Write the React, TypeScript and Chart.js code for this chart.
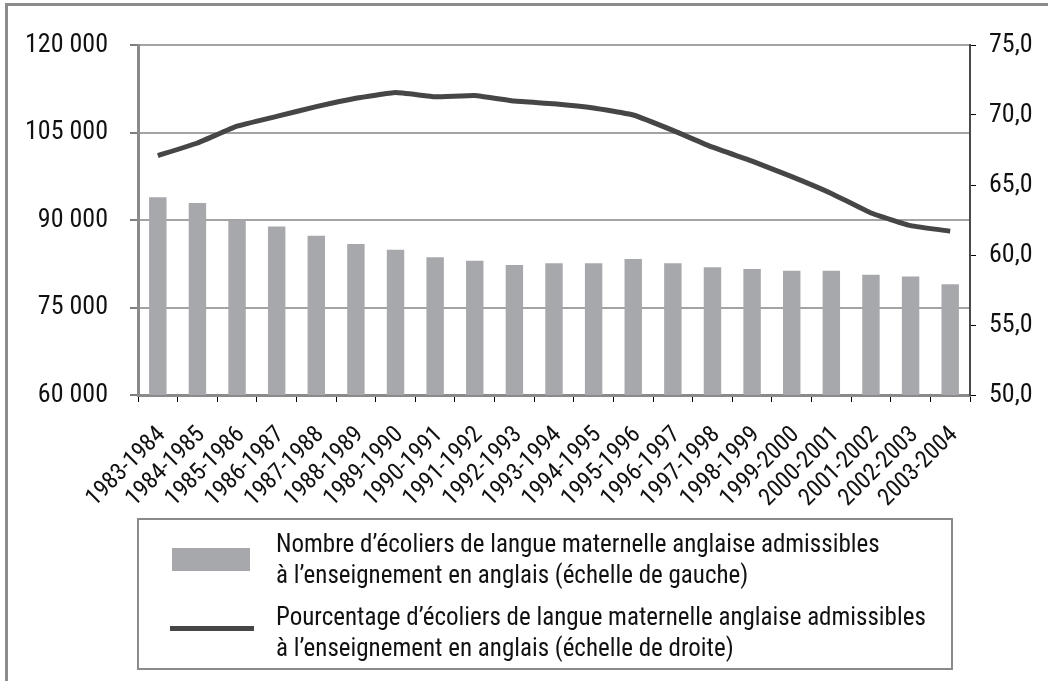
import React, { useEffect, useRef } from 'react';
import { Chart, registerables } from 'chart.js';

Chart.register(...registerables);

const FONT = '"Roboto Condensed", Roboto, "Liberation Sans", Arial, sans-serif';

const schoolYears = [
  '1983-1984', '1984-1985', '1985-1986', '1986-1987', '1987-1988', '1988-1989',
  '1989-1990', '1990-1991', '1991-1992', '1992-1993', '1993-1994', '1994-1995',
  '1995-1996', '1996-1997', '1997-1998', '1998-1999', '1999-2000', '2000-2001',
  '2001-2002', '2002-2003', '2003-2004',
];

const eligibleStudents = [
  93900, 92900, 89900, 88900, 87300, 85900, 84900, 83600, 83000, 82300, 82600,
  82600, 83300, 82600, 81900, 81600, 81300, 81300, 80600, 80300, 79000,
];

const eligiblePercent = [
  67.1, 68.0, 69.2, 69.9, 70.6, 71.2, 71.6, 71.3, 71.4, 71.0, 70.8,
  70.5, 70.0, 68.9, 67.7, 66.7, 65.6, 64.4, 63.0, 62.1, 61.7,
];

const leftTicks = { min: 60000, max: 120000, step: 15000 };
const rightTicks = { min: 50, max: 75, step: 5 };

const legendBarLines = [
  'Nombre d’écoliers de langue maternelle anglaise admissibles',
  'à l’enseignement en anglais (échelle de gauche)',
];
const legendLineLines = [
  'Pourcentage d’écoliers de langue maternelle anglaise admissibles',
  'à l’enseignement en anglais (échelle de droite)',
];

const BAR_COLOR = '#a7a8ab';
const LINE_COLOR = '#464646';
const TEXT_COLOR = '#111111';

function formatThousands(v: number): string {
  return String(Math.round(v)).replace(/\B(?=(\d{3})+(?!\d))/g, ' ');
}

export default function App() {
  const ref = useRef<HTMLCanvasElement>(null);

  useEffect(() => {
    if (!ref.current) return;
    const chart = new Chart(ref.current, {
      type: 'bar',
      data: {
        labels: schoolYears,
        datasets: [
          {
            type: 'line',
            label: legendLineLines.join(' '),
            data: eligiblePercent,
            yAxisID: 'y1',
            borderColor: LINE_COLOR,
            borderWidth: 5,
            pointRadius: 0,
            tension: 0.1,
            borderJoinStyle: 'round',
            order: 0,
          } as any,
          {
            type: 'bar',
            label: legendBarLines.join(' '),
            data: eligibleStudents,
            yAxisID: 'y',
            backgroundColor: BAR_COLOR,
            barPercentage: 0.44,
            categoryPercentage: 1,
            order: 1,
          } as any,
        ],
      },
      options: {
        responsive: false,
        animation: false,
        devicePixelRatio: 1,
        layout: { padding: { top: 45, left: 0, right: 0, bottom: 0 } },
        plugins: { legend: { display: false }, tooltip: { enabled: false } },
        scales: {
          x: {
            grid: {
              drawOnChartArea: false,
              drawTicks: true,
              tickLength: 7,
              tickColor: '#000',
              tickWidth: 1,
              offset: true,
            },
            border: { color: '#8a8a8a', width: 3 },
            ticks: {
              minRotation: 45,
              maxRotation: 45,
              autoSkip: false,
              font: { family: FONT, size: 24 },
              color: TEXT_COLOR,
              padding: 19,
              labelOffset: 4,
            },
            afterFit: (s: any) => { s.height = 286; },
          },
          y: {
            position: 'left',
            min: leftTicks.min,
            max: leftTicks.max,
            ticks: {
              stepSize: leftTicks.step,
              callback: (v: any) => formatThousands(Number(v)),
              font: { family: FONT, size: 26 },
              color: TEXT_COLOR,
              padding: 22,
            },
            grid: {
              color: '#a3a3a3',
              lineWidth: 2,
              tickColor: '#000',
              tickWidth: 1,
              tickLength: 8,
            },
            border: { color: '#8a8a8a', width: 3 },
            afterFit: (s: any) => { s.width = 138; },
          },
          y1: {
            position: 'right',
            min: rightTicks.min,
            max: rightTicks.max,
            ticks: {
              stepSize: rightTicks.step,
              callback: (v: any) => Number(v).toFixed(1).replace('.', ','),
              font: { family: FONT, size: 26 },
              color: TEXT_COLOR,
              padding: 13,
            },
            grid: {
              drawOnChartArea: false,
              tickColor: '#000',
              tickWidth: 1,
              tickLength: 6,
            },
            border: { color: '#4a4a4a', width: 2 },
            afterFit: (s: any) => { s.width = 78; },
          },
        },
      } as any,
    });
    return () => chart.destroy();
  }, []);

  const textStyle: React.CSSProperties = {
    position: 'absolute',
    left: 276,
    fontFamily: FONT,
    fontSize: 25,
    lineHeight: '31px',
    color: TEXT_COLOR,
    whiteSpace: 'nowrap',
  };

  return (
    <div style={{ position: 'fixed', left: 0, top: 0, width: 1048, height: 681, overflow: 'hidden', background: '#fff' }}>
      <div style={{ position: 'absolute', left: 5, top: 3, width: 1200, height: 900, borderTop: '3px solid #8c8c8c', borderLeft: '3px solid #8c8c8c' }} />
      <canvas ref={ref} width={1048} height={681} style={{ position: 'absolute', left: 0, top: 0, width: 1048, height: 681 }} />
      <div style={{ position: 'absolute', left: 137, top: 518, width: 816, height: 152, border: '2px solid #8a8a8a', boxSizing: 'border-box' }} />
      <div style={{ position: 'absolute', left: 172, top: 548, width: 78, height: 23, background: BAR_COLOR }} />
      <div style={{ position: 'absolute', left: 170, top: 626, width: 84, height: 5, background: LINE_COLOR }} />
      <div style={{ ...textStyle, top: 528 }}>
        {legendBarLines.map((t, i) => <div key={i}>{t}</div>)}
      </div>
      <div style={{ ...textStyle, top: 601 }}>
        {legendLineLines.map((t, i) => <div key={i}>{t}</div>)}
      </div>
    </div>
  );
}
